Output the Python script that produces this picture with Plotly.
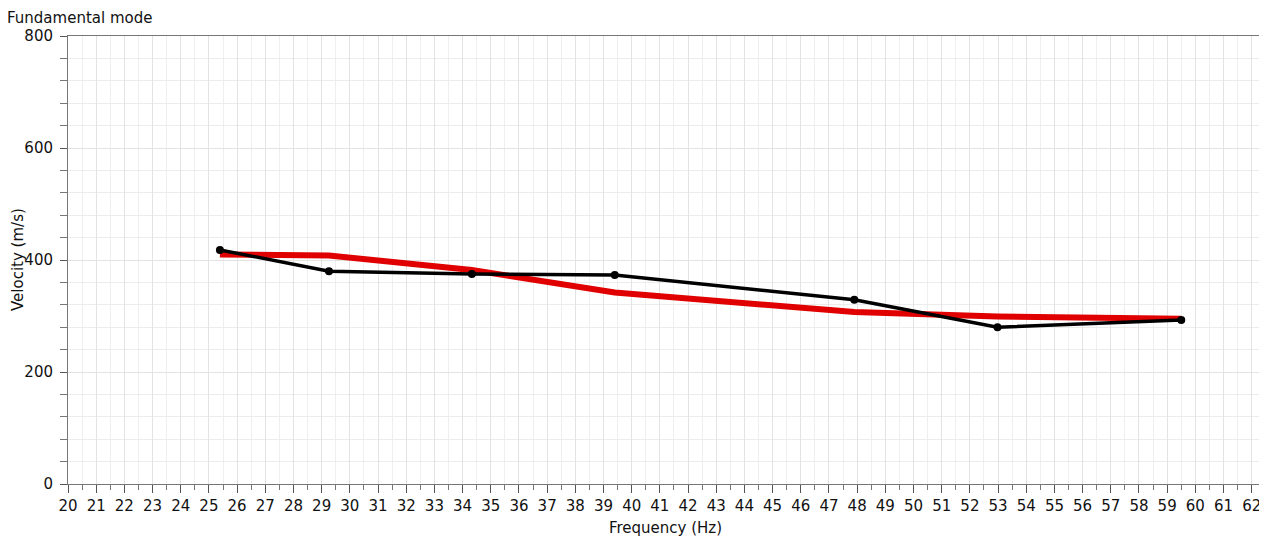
import plotly.graph_objects as go

freq = [25.39, 29.26, 34.33, 39.4, 47.9, 52.98, 59.5]
vel_measured = [418, 380, 375, 373, 329, 280, 293]
vel_model = [410, 408, 382, 342, 307, 299, 295]

title_text = "Fundamental mode"
x_title = "Frequency (Hz)"
y_title = "Velocity (m/s)"
x_ticks = list(range(20, 63))
y_ticks = [0, 200, 400, 600, 800]

font = "DejaVu Sans"

fig = go.Figure()
fig.add_trace(go.Scatter(x=freq, y=vel_model, mode="lines",
                         line=dict(color="#e00000", width=6),
                         showlegend=False, hoverinfo="skip"))
fig.add_trace(go.Scatter(x=freq, y=vel_measured, mode="lines+markers",
                         line=dict(color="#000000", width=3.5),
                         marker=dict(color="#000000", size=8),
                         showlegend=False))

fig.update_layout(
    width=1259, height=533,
    margin=dict(l=60, r=4, t=28, b=57, autoexpand=False),
    paper_bgcolor="white", plot_bgcolor="white",
    font=dict(family=font, size=15, color="#111111"),
    annotations=[
        dict(text=title_text, x=0, y=1, xref="paper", yref="paper",
             xanchor="left", yanchor="top", showarrow=False,
             xshift=-63, yshift=29,
             font=dict(family=font, size=15, color="#111111")),
        dict(text=y_title, x=0, y=0.5, xref="paper", yref="paper",
             xanchor="center", yanchor="middle", showarrow=False,
             textangle=-90, xshift=-50,
             font=dict(family=font, size=15, color="#111111")),
    ],
)
fig.update_xaxes(
    range=[20, 62.4], tickvals=x_ticks, ticktext=[str(v) for v in x_ticks],
    ticks="outside", ticklen=8, tickcolor="#555555",
    showline=True, linecolor="#777777", linewidth=1, mirror=True,
    showgrid=True, gridcolor="#e3e3e3", gridwidth=1,
    minor=dict(dtick=0.5, tick0=20, ticks="outside", ticklen=5, tickcolor="#777777",
               showgrid=True, gridcolor="#efefef"),
    title=dict(text=x_title, font=dict(size=15), standoff=8),
    tickfont=dict(size=15), zeroline=False, automargin=False,
)
fig.update_yaxes(
    range=[0, 800], tickvals=y_ticks,
    ticks="outside", ticklen=7, tickcolor="#555555",
    showline=True, linecolor="#777777", linewidth=1, mirror=True,
    showgrid=True, gridcolor="#e3e3e3", gridwidth=1,
    minor=dict(dtick=40, tick0=0, ticks="outside", ticklen=7, tickcolor="#777777",
               showgrid=True, gridcolor="#ececec"),
    ticklabelstandoff=4,
    tickfont=dict(size=15), zeroline=False, automargin=False,
)

fig.write_html("out.html")
